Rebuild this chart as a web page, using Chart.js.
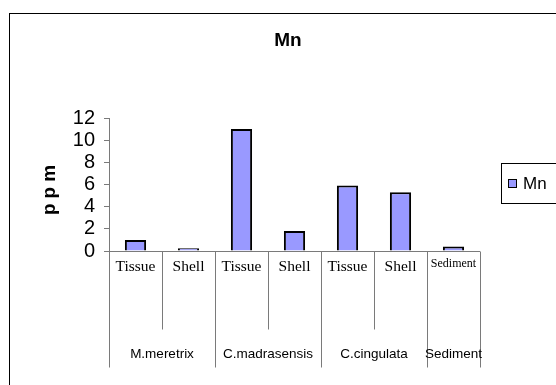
<!DOCTYPE html>
<html>
<head>
<meta charset="utf-8">
<script src="https://cdn.jsdelivr.net/npm/chart.js@4/dist/chart.umd.min.js"></script>
<style>
  html, body { margin: 0; padding: 0; background: #fff; }
  #wrap { width: 556px; height: 385px; position: relative; }
</style>
</head>
<body>
<div id="wrap"><canvas id="c" width="556" height="385"></canvas></div>
<script>
// Sample types along the axis, and the species each pair belongs to
const subLabels = ['Tissue', 'Shell', 'Tissue', 'Shell', 'Tissue', 'Shell', 'Sediment'];
const groupLabels = ['M.meretrix', 'C.madrasensis', 'C.cingulata', 'Sediment'];
const groupSizes = [2, 2, 2, 1];
// Manganese concentration (ppm)
const mnValues = [1.0, 0.25, 11.0, 1.8, 5.9, 5.3, 0.4];
const seriesName = 'Mn';
const yMin = 0, yMax = 12, yStep = 2;

const SANS = "'Liberation Sans', Arial, sans-serif";
const SERIF = "'Liberation Serif', 'Times New Roman', serif";
const BAR_FILL = '#9999FF';
const AXIS_GRAY = '#7a7a7a';

const decorations = {
  id: 'decorations',
  afterDraw(chart) {
    const ctx = chart.ctx;
    const area = chart.chartArea;
    const xs = chart.scales.x;
    const n = subLabels.length;
    const step = (area.right - area.left) / n;
    const edge = i => Math.round(xs.getPixelForValue(i) - step / 2) + 0.5;
    const bottom = Math.round(area.bottom) + 0.5;

    ctx.save();
    // category axis line
    ctx.strokeStyle = AXIS_GRAY;
    ctx.lineWidth = 1;
    ctx.beginPath();
    ctx.moveTo(area.left, bottom);
    ctx.lineTo(area.right, bottom);
    ctx.stroke();

    // separators: short between samples, long between species
    const groupStarts = new Set();
    let acc = 0;
    groupSizes.forEach(s => { groupStarts.add(acc); acc += s; });
    groupStarts.add(acc);
    for (let i = 0; i <= n; i++) {
      const x = i === n ? Math.round(area.right) + 0.5 : edge(i);
      const len = groupStarts.has(i) ? 116 : 78;
      ctx.beginPath();
      ctx.moveTo(x, bottom);
      ctx.lineTo(x, bottom + len);
      ctx.stroke();
    }

    // sample labels
    ctx.fillStyle = '#000';
    ctx.textAlign = 'center';
    ctx.textBaseline = 'middle';
    subLabels.forEach((lab, i) => {
      const x = xs.getPixelForValue(i);
      if (lab === 'Sediment') {
        ctx.font = '12px ' + SERIF;
        ctx.fillText(lab, x, area.bottom + 13);
      } else {
        ctx.font = '15.5px ' + SERIF;
        ctx.fillText(lab, x, area.bottom + 16);
      }
    });

    // species labels
    ctx.font = '13.5px ' + SANS;
    acc = 0;
    groupLabels.forEach((g, gi) => {
      const first = acc, last = acc + groupSizes[gi] - 1;
      const x = (xs.getPixelForValue(first) + xs.getPixelForValue(last)) / 2;
      ctx.fillText(g, x, area.bottom + 103);
      acc += groupSizes[gi];
    });

    // chart title
    ctx.font = 'bold 19px ' + SANS;
    ctx.fillText(seriesName, 288, 41);

    // y axis title, letter by letter for the spaced look
    ctx.save();
    ctx.translate(50, 190);
    ctx.rotate(-Math.PI / 2);
    ctx.font = 'bold 19px ' + SANS;
    const word = 'ppm';
    const gap = 5;
    const widths = [...word].map(ch => ctx.measureText(ch).width);
    const total = widths.reduce((a, b) => a + b, 0) + gap * (word.length - 1);
    let cx = -total / 2;
    ctx.textAlign = 'left';
    [...word].forEach((ch, i) => {
      ctx.fillText(ch, cx, 0);
      cx += widths[i] + gap;
    });
    ctx.restore();

    // legend
    ctx.strokeStyle = '#000';
    ctx.lineWidth = 1;
    ctx.strokeRect(501.5, 163.5, 80, 40);
    ctx.fillStyle = BAR_FILL;
    ctx.fillRect(508, 179, 9, 9);
    ctx.strokeRect(508.5, 179.5, 8, 8);
    ctx.fillStyle = '#000';
    ctx.font = '17px ' + SANS;
    ctx.textAlign = 'left';
    ctx.fillText(seriesName, 523, 184);

    // outer frame
    ctx.strokeStyle = '#000';
    ctx.strokeRect(9.5, 13.5, 600, 400);
    ctx.restore();
  }
};

new Chart(document.getElementById('c'), {
  type: 'bar',
  data: {
    labels: subLabels,
    datasets: [{
      label: seriesName,
      data: mnValues,
      backgroundColor: BAR_FILL,
      borderColor: '#000',
      borderWidth: 2,
      barPercentage: 0.4,
      categoryPercentage: 1.0
    }]
  },
  options: {
    responsive: false,
    animation: false,
    events: [],
    layout: { padding: { top: 118, right: 76, bottom: 134, left: 0 } },
    plugins: {
      legend: { display: false },
      title: { display: false },
      tooltip: { enabled: false }
    },
    scales: {
      x: {
        display: false,
        offset: true
      },
      y: {
        min: yMin,
        max: yMax,
        afterFit(scale) { scale.width = 109; },
        ticks: {
          stepSize: yStep,
          autoSkip: false,
          color: '#000',
          padding: 9,
          font: { family: SANS, size: 20 }
        },
        grid: {
          drawOnChartArea: false,
          drawTicks: true,
          tickLength: 5,
          color: AXIS_GRAY
        },
        border: { color: AXIS_GRAY, width: 1 }
      }
    }
  },
  plugins: [decorations]
});
</script>
</body>
</html>
